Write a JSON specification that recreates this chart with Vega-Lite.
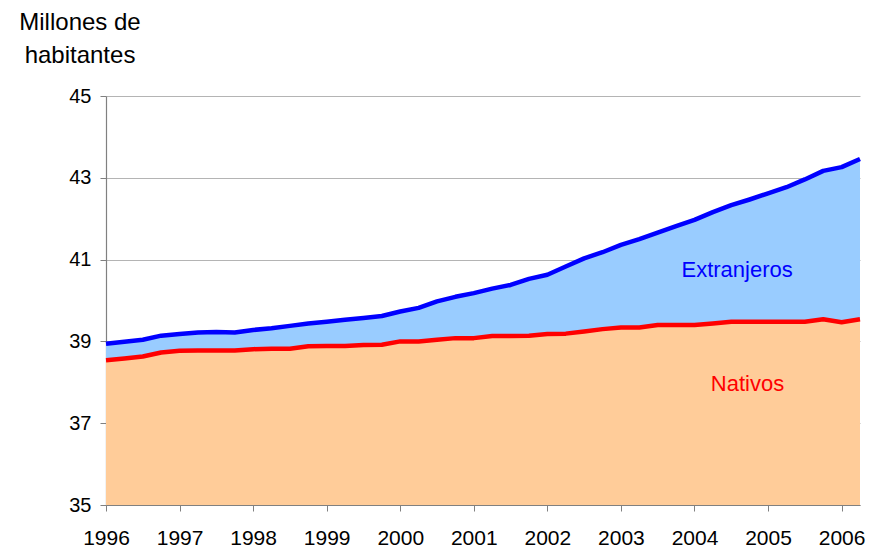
{
  "$schema": "https://vega.github.io/schema/vega-lite/v6.json",
  "autosize": "none",
  "width": 754,
  "height": 409,
  "padding": {"left": 106, "top": 96, "right": 15, "bottom": 44},
  "background": "white",
  "config": {
    "font": "Liberation Sans",
    "view": {"stroke": null}
  },
  "datasets": {
    "poblacion": [
      {"t": 1996.00, "nativos": 38.54, "total": 38.94},
      {"t": 1996.25, "nativos": 38.58, "total": 38.99},
      {"t": 1996.50, "nativos": 38.63, "total": 39.04},
      {"t": 1996.75, "nativos": 38.73, "total": 39.14},
      {"t": 1997.00, "nativos": 38.77, "total": 39.18},
      {"t": 1997.25, "nativos": 38.78, "total": 39.22},
      {"t": 1997.50, "nativos": 38.78, "total": 39.23},
      {"t": 1997.75, "nativos": 38.78, "total": 39.22},
      {"t": 1998.00, "nativos": 38.81, "total": 39.28},
      {"t": 1998.25, "nativos": 38.82, "total": 39.32},
      {"t": 1998.50, "nativos": 38.82, "total": 39.38},
      {"t": 1998.75, "nativos": 38.88, "total": 39.44},
      {"t": 1999.00, "nativos": 38.89, "total": 39.48},
      {"t": 1999.25, "nativos": 38.89, "total": 39.53},
      {"t": 1999.50, "nativos": 38.91, "total": 39.57},
      {"t": 1999.75, "nativos": 38.92, "total": 39.62},
      {"t": 2000.00, "nativos": 39.00, "total": 39.73},
      {"t": 2000.25, "nativos": 39.00, "total": 39.82},
      {"t": 2000.50, "nativos": 39.04, "total": 39.98},
      {"t": 2000.75, "nativos": 39.08, "total": 40.09},
      {"t": 2001.00, "nativos": 39.08, "total": 40.18},
      {"t": 2001.25, "nativos": 39.13, "total": 40.29},
      {"t": 2001.50, "nativos": 39.13, "total": 40.38},
      {"t": 2001.75, "nativos": 39.14, "total": 40.53},
      {"t": 2002.00, "nativos": 39.18, "total": 40.63},
      {"t": 2002.25, "nativos": 39.19, "total": 40.83},
      {"t": 2002.50, "nativos": 39.24, "total": 41.03},
      {"t": 2002.75, "nativos": 39.30, "total": 41.18},
      {"t": 2003.00, "nativos": 39.34, "total": 41.36},
      {"t": 2003.25, "nativos": 39.34, "total": 41.50},
      {"t": 2003.50, "nativos": 39.40, "total": 41.66},
      {"t": 2003.75, "nativos": 39.40, "total": 41.82},
      {"t": 2004.00, "nativos": 39.40, "total": 41.97},
      {"t": 2004.25, "nativos": 39.44, "total": 42.16},
      {"t": 2004.50, "nativos": 39.48, "total": 42.33},
      {"t": 2004.75, "nativos": 39.48, "total": 42.47},
      {"t": 2005.00, "nativos": 39.48, "total": 42.62},
      {"t": 2005.25, "nativos": 39.48, "total": 42.77},
      {"t": 2005.50, "nativos": 39.48, "total": 42.96},
      {"t": 2005.75, "nativos": 39.54, "total": 43.17},
      {"t": 2006.00, "nativos": 39.47, "total": 43.26},
      {"t": 2006.25, "nativos": 39.54, "total": 43.46}
    ]
  },
  "layer": [
    {
      "data": {"name": "poblacion"},
      "mark": {"type": "area", "color": "#99CCFF", "opacity": 1},
      "encoding": {
        "x": {
          "field": "t",
          "type": "quantitative",
          "scale": {"domain": [1996, 2006.25], "nice": false, "zero": false},
          "axis": {
            "title": null,
            "values": [1996, 1997, 1998, 1999, 2000, 2001, 2002, 2003, 2004, 2005, 2006],
            "format": "d",
            "grid": false,
            "labelFlush": false,
            "labelOverlap": false,
            "labelFont": "Liberation Sans",
            "labelFontSize": 21,
            "labelColor": "#000000",
            "labelBaseline": "alphabetic",
            "labelPadding": 33,
            "tickSize": 6,
            "tickColor": "#808080",
            "domainColor": "#808080",
            "domainWidth": 1.2
          }
        },
        "y": {
          "field": "total",
          "type": "quantitative",
          "scale": {"domain": [35, 45], "nice": false, "zero": false},
          "axis": {
            "title": ["Millones de", "habitantes"],
            "titleAngle": 0,
            "titleAlign": "center",
            "titleBaseline": "alphabetic",
            "titleX": -26.5,
            "titleY": -67,
            "titleLineHeight": 33.5,
            "titleFont": "Liberation Sans",
            "titleFontSize": 24,
            "titleFontWeight": "normal",
            "titleColor": "#000000",
            "values": [35, 37, 39, 41, 43, 45],
            "grid": true,
            "gridColor": "#B4B4B4",
            "gridWidth": 1,
            "labelFont": "Liberation Sans",
            "labelFontSize": 20,
            "labelColor": "#000000",
            "labelPadding": 9,
            "tickSize": 6,
            "tickColor": "#808080",
            "domainColor": "#808080",
            "domainWidth": 1.2
          }
        },
        "y2": {"datum": 35}
      }
    },
    {
      "data": {"name": "poblacion"},
      "mark": {"type": "area", "color": "#FFCC99", "opacity": 1},
      "encoding": {
        "x": {"field": "t", "type": "quantitative"},
        "y": {"field": "nativos", "type": "quantitative"},
        "y2": {"datum": 35}
      }
    },
    {
      "data": {"name": "poblacion"},
      "mark": {"type": "line", "color": "#0000FF", "strokeWidth": 4.5, "strokeJoin": "round"},
      "encoding": {
        "x": {"field": "t", "type": "quantitative"},
        "y": {"field": "total", "type": "quantitative"}
      }
    },
    {
      "data": {"name": "poblacion"},
      "mark": {"type": "line", "color": "#FF0000", "strokeWidth": 4.5, "strokeJoin": "round"},
      "encoding": {
        "x": {"field": "t", "type": "quantitative"},
        "y": {"field": "nativos", "type": "quantitative"}
      }
    },
    {
      "data": {"values": [{}]},
      "mark": {"type": "text", "color": "#0000FF", "fontSize": 22, "font": "Liberation Sans", "align": "center", "baseline": "alphabetic"},
      "encoding": {
        "x": {"datum": 2004.58, "type": "quantitative"},
        "y": {"datum": 40.58, "type": "quantitative"},
        "text": {"value": "Extranjeros"}
      }
    },
    {
      "data": {"values": [{}]},
      "mark": {"type": "text", "color": "#FF0000", "fontSize": 22, "font": "Liberation Sans", "align": "center", "baseline": "alphabetic"},
      "encoding": {
        "x": {"datum": 2004.72, "type": "quantitative"},
        "y": {"datum": 37.79, "type": "quantitative"},
        "text": {"value": "Nativos"}
      }
    }
  ]
}
